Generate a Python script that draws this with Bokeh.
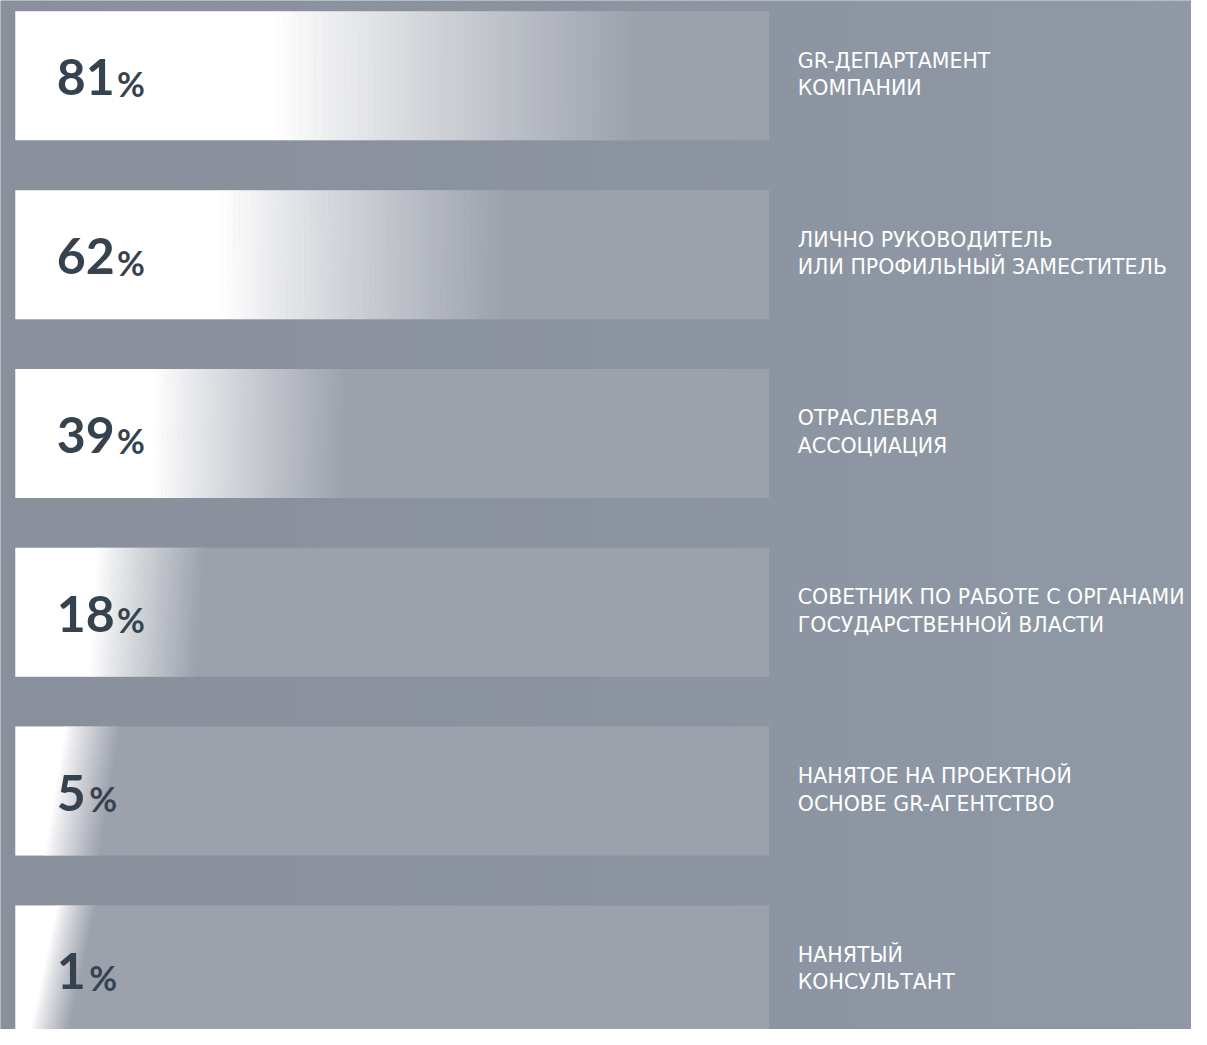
import numpy as np
from bokeh.plotting import figure
from bokeh.models import Range1d
from bokeh.embed import file_html
from bokeh.resources import INLINE
from bokeh.core.properties import value

# ---- data ----
values = [81, 62, 39, 18, 5, 1]
labels_line1 = ["GR-ДЕПАРТАМЕНТ", "ЛИЧНО РУКОВОДИТЕЛЬ", "ОТРАСЛЕВАЯ",
                "СОВЕТНИК ПО РАБОТЕ С ОРГАНАМИ", "НАНЯТОЕ НА ПРОЕКТНОЙ", "НАНЯТЫЙ"]
labels_line2 = ["КОМПАНИИ", "ИЛИ ПРОФИЛЬНЫЙ ЗАМЕСТИТЕЛЬ", "АССОЦИАЦИЯ",
                "ГОСУДАРСТВЕННОЙ ВЛАСТИ", "ОСНОВЕ GR-АГЕНТСТВО", "КОНСУЛЬТАНТ"]

# ---- layout / style ----
W, H = 1207, 1045
BAR_X0, BAR_X1 = 15, 779
TOP0, PITCH, BAR_H = 11, 181.6, 131
BAR_GRAY = np.array([156, 161, 172])
WHITE = np.array([255, 255, 255])
NUM_COLOR = "#36434f"
NUM_SIZE, PCT_SIZE, LAB_SIZE = 50, 34, 20.5
BASE_FIX = 0.38  # baseline correction (fraction of font size)

def hexc(c):
    c = np.clip(np.round(c), 0, 255).astype(int)
    return "#%02x%02x%02x" % tuple(c)

p = figure(width=1191, height=1029, x_range=Range1d(0, W), y_range=Range1d(H, 0),
           output_backend="svg", toolbar_location=None, min_border=0)
p.axis.visible = False
p.xgrid.visible = False
p.ygrid.visible = False
p.outline_line_color = None
p.background_fill_color = "#8b929e"
p.border_fill_color = "#8b929e"

# background subtle horizontal gradient
nb = 60
edges = np.linspace(0, W, nb + 1)
c_left = np.array([137, 143, 155])
c_right = np.array([143, 152, 165])
bcols = [hexc(c_left + (c_right - c_left) * (i + 0.5) / nb) for i in range(nb)]
p.quad(left=edges[:-1], right=edges[1:] + 0.5, top=0, bottom=H,
       fill_color=bcols, line_color=None)

n = len(values)
tops = [TOP0 + i * PITCH for i in range(n)]
bottoms = [t + BAR_H for t in tops]
centers = [t + BAR_H / 2 for t in tops]

# gray bar boxes
p.quad(left=BAR_X0, right=BAR_X1, top=tops, bottom=bottoms,
       fill_color=hexc(BAR_GRAY), line_color=None)

# white-to-gray fades derived from values
xs, ys, cols = [], [], []
span = BAR_X1 - BAR_X0
for i, v in enumerate(values):
    f_end = BAR_X0 + span * (0.08 + 0.92 * v / 100.0)
    f_start = BAR_X0 + (f_end - BAR_X0) * 0.42
    slant = 30 * np.exp(-v / 15.0)
    t, b = tops[i], bottoms[i]

    def poly(x0, x1):
        pts = [x0 + slant / 2, x1 + slant / 2, x1 - slant / 2, x0 - slant / 2]
        pts = [min(BAR_X1, max(BAR_X0, q)) for q in pts]
        return pts, [t, t, b, b]

    px, py = poly(BAR_X0 - slant, f_start + 1)
    xs.append(px); ys.append(py); cols.append("#ffffff")
    N = 48
    st = np.linspace(f_start, f_end, N + 1)
    for k in range(N):
        frac = ((k + 0.5) / N) ** 0.9
        col = WHITE + (BAR_GRAY - WHITE) * frac
        px, py = poly(st[k], st[k + 1] + 0.6)
        xs.append(px); ys.append(py); cols.append(hexc(col))

p.patches(xs=xs, ys=ys, fill_color=cols, line_color=None)

# numbers
DIGIT_W = 28
num_txt = [str(v) for v in values]
base_y = [c + 20.5 for c in centers]
p.text(x=[57] * n, y=[y - BASE_FIX * NUM_SIZE for y in base_y], text=num_txt,
       text_font=value("Lato"), text_font_style="bold",
       text_font_size=f"{NUM_SIZE}px", text_color=NUM_COLOR,
       text_baseline="alphabetic", text_align="left")
pct_x = [57 + len(s) * DIGIT_W + 5 for s in num_txt]
p.text(x=pct_x, y=[y - BASE_FIX * PCT_SIZE for y in base_y], text=["%"] * n,
       text_font=value("Lato"), text_font_style="bold",
       text_font_size=f"{PCT_SIZE}px", text_color=NUM_COLOR,
       text_baseline="alphabetic", text_align="left")

# category labels
lab_x = [808] * n
p.text(x=lab_x, y=[c - 7.5 - BASE_FIX * LAB_SIZE for c in centers], text=labels_line1,
       text_font=value("DejaVu Sans"), text_font_size=f"{LAB_SIZE}px",
       text_color="#ffffff", text_baseline="alphabetic", text_align="left")
p.text(x=lab_x, y=[c + 20.5 - BASE_FIX * LAB_SIZE for c in centers], text=labels_line2,
       text_font=value("DejaVu Sans"), text_font_size=f"{LAB_SIZE}px",
       text_color="#ffffff", text_baseline="alphabetic", text_align="left")

open("out.html", "w").write(file_html(p, INLINE))
